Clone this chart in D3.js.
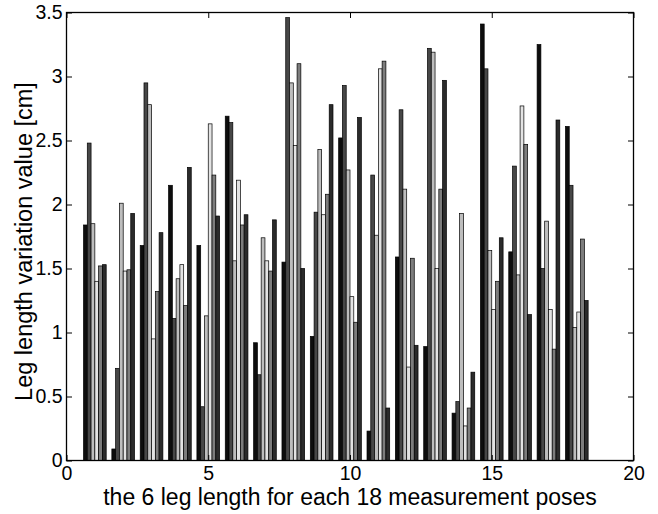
<!DOCTYPE html>
<html>
<head>
<meta charset="utf-8">
<script src="https://cdn.jsdelivr.net/npm/d3@7"></script>
<style>
  html, body { margin: 0; padding: 0; background: #fff; }
  svg { display: block; }
  text { font-family: "Liberation Sans", Arial, Helvetica, sans-serif; fill: #000; }
</style>
</head>
<body>
<svg id="chart" width="658" height="514"></svg>
<script>
// Measurement poses (x positions of the groups)
const poses = d3.range(1, 19);

// Variation of each of the 6 leg lengths, one array per leg, indexed by pose
const leg1 = [1.84, 0.09, 1.68, 2.15, 1.68, 2.69, 0.92, 1.55, 0.97, 2.52, 0.23, 1.59, 0.89, 0.37, 3.41, 1.63, 3.25, 2.61];
const leg2 = [2.48, 0.72, 2.95, 1.11, 0.42, 2.64, 0.67, 3.46, 1.94, 2.93, 2.23, 2.74, 3.22, 0.46, 3.06, 2.30, 1.50, 2.15];
const leg3 = [1.85, 2.01, 2.78, 1.42, 1.13, 1.56, 1.74, 2.95, 2.43, 2.27, 1.76, 2.12, 3.19, 1.93, 1.64, 1.45, 1.87, 1.04];
const leg4 = [1.40, 1.48, 0.95, 1.53, 2.63, 2.19, 1.56, 2.46, 1.92, 1.28, 3.06, 0.73, 1.50, 0.27, 1.18, 2.77, 1.18, 1.16];
const leg5 = [1.52, 1.49, 1.32, 1.21, 2.23, 1.84, 1.48, 3.10, 2.08, 1.08, 3.12, 1.58, 2.12, 0.41, 1.40, 2.47, 0.87, 1.73];
const leg6 = [1.53, 1.93, 1.78, 2.29, 1.91, 1.92, 1.88, 1.50, 2.78, 2.68, 0.41, 0.90, 2.97, 0.69, 1.74, 1.14, 2.66, 1.25];
const legs = [leg1, leg2, leg3, leg4, leg5, leg6];

// Gray shade used for each leg
const legColors = ["#0d0d0d", "#474747", "#bdbdbd", "#e3e3e3", "#7d7d7d", "#2b2b2b"];

// Tick values
const xTicks = [0, 5, 10, 15, 20];
const yTicks = [0, 0.5, 1, 1.5, 2, 2.5, 3, 3.5];

const xLabel = "the 6 leg length for each 18 measurement poses";
const yLabel = "Leg length variation value [cm]";

const svg = d3.select("#chart");
const plotLeft = 66.5, plotRight = 633.5, plotTop = 12.5, plotBottom = 460.5;

const x = d3.scaleLinear().domain([0, 20]).range([plotLeft, plotRight]);
const y = d3.scaleLinear().domain([0, 3.5]).range([plotBottom, plotTop]);

// Grouped bars: 6 adjacent bars filling 0.8 of each unit slot
const groupWidth = 0.8;
const inner = d3.scaleBand().domain(d3.range(legs.length)).range([-groupWidth / 2, groupWidth / 2]).padding(0);

const rows = [];
legs.forEach((vals, j) => vals.forEach((v, i) => rows.push({ pose: poses[i], leg: j, value: v })));

svg.append("g")
  .selectAll("rect")
  .data(rows)
  .join("rect")
  .attr("x", d => x(d.pose + inner(d.leg)))
  .attr("width", d => x(d.pose + inner(d.leg) + inner.bandwidth()) - x(d.pose + inner(d.leg)))
  .attr("y", d => y(d.value))
  .attr("height", d => y(0) - y(d.value))
  .attr("fill", d => legColors[d.leg])
  .attr("stroke", "#000")
  .attr("stroke-width", 0.7);

// Axes with inward ticks on all four sides
const tickLen = 5.5;
const fontSize = "19.5px";

const gx = svg.append("g").attr("transform", `translate(0,${plotBottom})`)
  .call(d3.axisBottom(x).tickValues(xTicks).tickFormat(d3.format("d")).tickSizeInner(-tickLen).tickSizeOuter(0).tickPadding(5.5));
const gxt = svg.append("g").attr("transform", `translate(0,${plotTop})`)
  .call(d3.axisTop(x).tickValues(xTicks).tickFormat("").tickSizeInner(-tickLen).tickSizeOuter(0));
const gy = svg.append("g").attr("transform", `translate(${plotLeft},0)`)
  .call(d3.axisLeft(y).tickValues(yTicks).tickFormat(d3.format("~g")).tickSizeInner(-tickLen).tickSizeOuter(0).tickPadding(4));
const gyr = svg.append("g").attr("transform", `translate(${plotRight},0)`)
  .call(d3.axisRight(y).tickValues(yTicks).tickFormat("").tickSizeInner(-tickLen).tickSizeOuter(0));

[gx, gxt, gy, gyr].forEach(g => {
  g.select(".domain").remove();
  g.selectAll(".tick line").attr("stroke", "#000").attr("stroke-width", 1);
  g.selectAll("text").attr("font-size", fontSize).attr("font-family", null).attr("fill", "#000");
});

// Axes box
svg.append("rect")
  .attr("x", plotLeft).attr("y", plotTop)
  .attr("width", plotRight - plotLeft).attr("height", plotBottom - plotTop)
  .attr("fill", "none").attr("stroke", "#000").attr("stroke-width", 1.3);

// Axis titles
svg.append("text")
  .attr("x", (plotLeft + plotRight) / 2).attr("y", 505)
  .attr("text-anchor", "middle")
  .attr("font-size", "23px")
  .text(xLabel);

svg.append("text")
  .attr("transform", `translate(32,${(plotTop + plotBottom) / 2 + 5}) rotate(-90)`)
  .attr("text-anchor", "middle")
  .attr("font-size", "23.5px")
  .text(yLabel);
</script>
</body>
</html>
